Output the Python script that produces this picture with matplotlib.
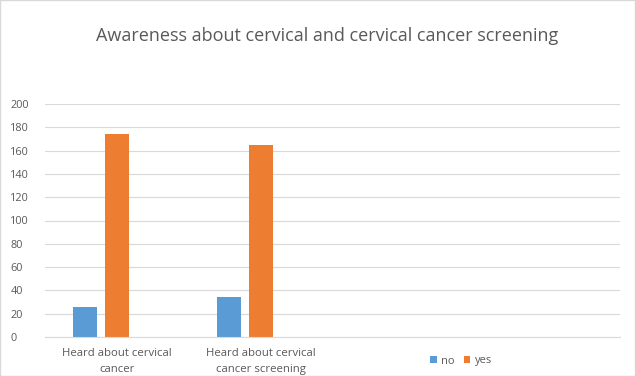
import matplotlib.pyplot as plt
from matplotlib.patches import Rectangle

categories = ["Heard about cervical\ncancer", "Heard about cervical\ncancer screening", "", ""]
no_values = [26, 34]
yes_values = [174, 165]

BLUE = "#5b9bd5"
ORANGE = "#ed7d31"
GRAY = "#595959"

plt.rcParams["font.family"] = ["Open Sans", "DejaVu Sans"]

fig = plt.figure(figsize=(6.35, 3.76), dpi=100)
ax = fig.add_axes([45 / 635, 1 - 337 / 376, 575 / 635, 233 / 376])

width = 24 / 144
pos = list(range(len(categories)))
ax.bar([p - 32 / 144 for p in pos[:len(no_values)]], no_values, width, color=BLUE, label="no")
ax.bar(pos[:len(yes_values)], yes_values, width, color=ORANGE, label="yes")

ax.set_xlim(-0.5, len(categories) - 0.5)
ax.set_ylim(0, 200)
ax.set_yticks(range(0, 201, 20))
ax.set_xticks(pos)
ax.set_xticklabels(categories, fontsize=8.2, color=GRAY, linespacing=1.55)
ax.tick_params(axis="y", labelsize=7.8, labelcolor=GRAY, length=0, pad=25)
ax.tick_params(axis="x", length=0, pad=8)
ax.grid(axis="y", color="#d9d9d9", linewidth=0.8)
ax.set_axisbelow(True)
for side in ["top", "right", "left"]:
    ax.spines[side].set_visible(False)
ax.spines["bottom"].set_color("#d9d9d9")
for lbl in ax.get_yticklabels():
    lbl.set_horizontalalignment("left")

fig.text(327 / 635, 1 - 36 / 376, "Awareness about cervical and cervical cancer screening",
         ha="center", va="center", fontsize=13, color=GRAY)

ax.legend(loc="center", bbox_to_anchor=(461 / 635, 1 - 361 / 376), bbox_transform=fig.transFigure,
          ncol=2, frameon=False, fontsize=8, labelcolor=GRAY, handlelength=0.6, handleheight=0.6,
          handletextpad=0.4, columnspacing=0.8)

fig.patches.append(Rectangle((0, 0), 1, 1, transform=fig.transFigure, fill=False,
                             edgecolor="#d9d9d9", linewidth=1))

fig.savefig("out.png", dpi=100)
